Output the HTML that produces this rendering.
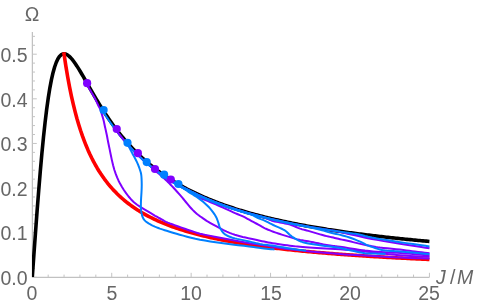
<!DOCTYPE html>
<html><head><meta charset="utf-8"><style>
html,body{margin:0;padding:0;background:#fff}
body{width:479px;height:307px;position:relative;overflow:hidden;font-family:"Liberation Sans",sans-serif}
.t{position:absolute;color:#666;font-size:19.5px;line-height:20px;white-space:nowrap;will-change:transform}
</style></head><body>
<svg width="479" height="307" viewBox="0 0 479 307" style="position:absolute;left:0;top:0"><defs><clipPath id="cp"><rect x="32.0" y="0" width="450" height="277.10"/></clipPath></defs><g stroke-width="1" fill="none"><line x1="32.3" y1="277.3" x2="429.425" y2="277.3" stroke="#b2b2b2"/><line x1="32.3" y1="277.3" x2="32.3" y2="32" stroke="#b2b2b2"/><line x1="32.30" y1="277.3" x2="32.30" y2="272.8" stroke="#c4c4c4"/><line x1="48.18" y1="277.3" x2="48.18" y2="274.6" stroke="#c4c4c4"/><line x1="64.07" y1="277.3" x2="64.07" y2="274.6" stroke="#c4c4c4"/><line x1="79.95" y1="277.3" x2="79.95" y2="274.6" stroke="#c4c4c4"/><line x1="95.84" y1="277.3" x2="95.84" y2="274.6" stroke="#c4c4c4"/><line x1="111.72" y1="277.3" x2="111.72" y2="272.8" stroke="#c4c4c4"/><line x1="127.61" y1="277.3" x2="127.61" y2="274.6" stroke="#c4c4c4"/><line x1="143.50" y1="277.3" x2="143.50" y2="274.6" stroke="#c4c4c4"/><line x1="159.38" y1="277.3" x2="159.38" y2="274.6" stroke="#c4c4c4"/><line x1="175.26" y1="277.3" x2="175.26" y2="274.6" stroke="#c4c4c4"/><line x1="191.15" y1="277.3" x2="191.15" y2="272.8" stroke="#c4c4c4"/><line x1="207.03" y1="277.3" x2="207.03" y2="274.6" stroke="#c4c4c4"/><line x1="222.92" y1="277.3" x2="222.92" y2="274.6" stroke="#c4c4c4"/><line x1="238.81" y1="277.3" x2="238.81" y2="274.6" stroke="#c4c4c4"/><line x1="254.69" y1="277.3" x2="254.69" y2="274.6" stroke="#c4c4c4"/><line x1="270.57" y1="277.3" x2="270.57" y2="272.8" stroke="#c4c4c4"/><line x1="286.46" y1="277.3" x2="286.46" y2="274.6" stroke="#c4c4c4"/><line x1="302.35" y1="277.3" x2="302.35" y2="274.6" stroke="#c4c4c4"/><line x1="318.23" y1="277.3" x2="318.23" y2="274.6" stroke="#c4c4c4"/><line x1="334.12" y1="277.3" x2="334.12" y2="274.6" stroke="#c4c4c4"/><line x1="350.00" y1="277.3" x2="350.00" y2="272.8" stroke="#c4c4c4"/><line x1="365.88" y1="277.3" x2="365.88" y2="274.6" stroke="#c4c4c4"/><line x1="381.77" y1="277.3" x2="381.77" y2="274.6" stroke="#c4c4c4"/><line x1="397.66" y1="277.3" x2="397.66" y2="274.6" stroke="#c4c4c4"/><line x1="413.54" y1="277.3" x2="413.54" y2="274.6" stroke="#c4c4c4"/><line x1="429.43" y1="277.3" x2="429.43" y2="272.8" stroke="#c4c4c4"/><line x1="32.3" y1="277.30" x2="36.8" y2="277.30" stroke="#c4c4c4"/><line x1="32.3" y1="268.38" x2="35.0" y2="268.38" stroke="#c4c4c4"/><line x1="32.3" y1="259.45" x2="35.0" y2="259.45" stroke="#c4c4c4"/><line x1="32.3" y1="250.53" x2="35.0" y2="250.53" stroke="#c4c4c4"/><line x1="32.3" y1="241.60" x2="35.0" y2="241.60" stroke="#c4c4c4"/><line x1="32.3" y1="232.68" x2="36.8" y2="232.68" stroke="#c4c4c4"/><line x1="32.3" y1="223.76" x2="35.0" y2="223.76" stroke="#c4c4c4"/><line x1="32.3" y1="214.83" x2="35.0" y2="214.83" stroke="#c4c4c4"/><line x1="32.3" y1="205.91" x2="35.0" y2="205.91" stroke="#c4c4c4"/><line x1="32.3" y1="196.98" x2="35.0" y2="196.98" stroke="#c4c4c4"/><line x1="32.3" y1="188.06" x2="36.8" y2="188.06" stroke="#c4c4c4"/><line x1="32.3" y1="179.14" x2="35.0" y2="179.14" stroke="#c4c4c4"/><line x1="32.3" y1="170.21" x2="35.0" y2="170.21" stroke="#c4c4c4"/><line x1="32.3" y1="161.29" x2="35.0" y2="161.29" stroke="#c4c4c4"/><line x1="32.3" y1="152.36" x2="35.0" y2="152.36" stroke="#c4c4c4"/><line x1="32.3" y1="143.44" x2="36.8" y2="143.44" stroke="#c4c4c4"/><line x1="32.3" y1="134.52" x2="35.0" y2="134.52" stroke="#c4c4c4"/><line x1="32.3" y1="125.59" x2="35.0" y2="125.59" stroke="#c4c4c4"/><line x1="32.3" y1="116.67" x2="35.0" y2="116.67" stroke="#c4c4c4"/><line x1="32.3" y1="107.74" x2="35.0" y2="107.74" stroke="#c4c4c4"/><line x1="32.3" y1="98.82" x2="36.8" y2="98.82" stroke="#c4c4c4"/><line x1="32.3" y1="89.90" x2="35.0" y2="89.90" stroke="#c4c4c4"/><line x1="32.3" y1="80.97" x2="35.0" y2="80.97" stroke="#c4c4c4"/><line x1="32.3" y1="72.05" x2="35.0" y2="72.05" stroke="#c4c4c4"/><line x1="32.3" y1="63.12" x2="35.0" y2="63.12" stroke="#c4c4c4"/><line x1="32.3" y1="54.20" x2="36.8" y2="54.20" stroke="#c4c4c4"/><line x1="32.3" y1="45.28" x2="35.0" y2="45.28" stroke="#c4c4c4"/><line x1="32.3" y1="36.35" x2="35.0" y2="36.35" stroke="#c4c4c4"/></g><path d="M32.30,276.90 L33.89,254.56 L35.49,232.55 L37.08,211.19 L38.68,190.77 L40.27,171.54 L41.87,153.68 L43.46,137.34 L45.06,122.59 L46.65,109.48 L48.25,97.99 L49.84,88.08 L51.44,79.68 L53.03,72.68 L54.63,66.99 L56.22,62.49 L57.82,59.05 L59.41,56.57 L61.01,54.94 L62.60,54.05 L64.20,53.80 L65.79,54.11 L67.39,54.90 L68.98,56.09 L70.58,57.62 L72.17,59.43 L73.77,61.49 L75.36,63.73 L76.96,66.14 L78.55,68.66 L80.15,71.28 L81.74,73.97 L83.34,76.71 L84.93,79.49 L86.53,82.28 L88.12,85.08 L89.72,87.88 L91.31,90.66 L92.91,93.42 L94.50,96.15 L96.10,98.85 L97.69,101.51 L99.28,104.14 L100.88,106.72 L102.47,109.25 L104.07,111.74 L105.66,114.19 L107.26,116.58 L108.85,118.93 L110.45,121.23 L112.04,123.48 L113.64,125.69 L115.23,127.84 L116.83,129.95 L118.42,132.02 L120.02,134.03 L121.61,136.01 L123.21,137.94 L124.80,139.82 L126.40,141.67 L127.99,143.47 L129.59,145.23 L131.18,146.95 L132.78,148.64 L134.37,150.29 L135.97,151.90 L137.56,153.47 L139.16,155.01 L140.75,156.52 L142.35,157.99 L143.94,159.44 L145.54,160.85 L147.13,162.23 L148.73,163.58 L150.32,164.90 L151.92,166.20 L153.51,167.47 L155.11,168.71 L156.70,169.92 L158.30,171.12 L159.89,172.28 L161.49,173.43 L163.08,174.55 L164.68,175.64 L166.27,176.72 L167.86,177.78 L169.46,178.81 L171.05,179.82 L172.65,180.82 L174.24,181.80 L175.84,182.75 L177.43,183.69 L179.03,184.61 L180.62,185.52 L182.22,186.41 L183.81,187.28 L185.41,188.14 L187.00,188.98 L188.60,189.80 L190.19,190.61 L191.79,191.41 L193.38,192.19 L194.98,192.96 L196.57,193.72 L198.17,194.46 L199.76,195.19 L201.36,195.91 L202.95,196.61 L204.55,197.31 L206.14,197.99 L207.74,198.66 L209.33,199.32 L210.93,199.97 L212.52,200.61 L214.12,201.24 L215.71,201.86 L217.31,202.47 L218.90,203.07 L220.50,203.66 L222.09,204.24 L223.69,204.82 L225.28,205.38 L226.88,205.94 L228.47,206.48 L230.07,207.02 L231.66,207.55 L233.25,208.08 L234.85,208.59 L236.44,209.10 L238.04,209.60 L239.63,210.10 L241.23,210.58 L242.82,211.06 L244.42,211.54 L246.01,212.00 L247.61,212.46 L249.20,212.92 L250.80,213.37 L252.39,213.81 L253.99,214.24 L255.58,214.67 L257.18,215.10 L258.77,215.51 L260.37,215.93 L261.96,216.33 L263.56,216.74 L265.15,217.13 L266.75,217.53 L268.34,217.91 L269.94,218.29 L271.53,218.67 L273.13,219.04 L274.72,219.41 L276.32,219.77 L277.91,220.13 L279.51,220.49 L281.10,220.84 L282.70,221.18 L284.29,221.53 L285.89,221.86 L287.48,222.20 L289.08,222.53 L290.67,222.85 L292.27,223.17 L293.86,223.49 L295.46,223.81 L297.05,224.12 L298.64,224.42 L300.24,224.73 L301.83,225.03 L303.43,225.32 L305.02,225.62 L306.62,225.91 L308.21,226.19 L309.81,226.48 L311.40,226.76 L313.00,227.04 L314.59,227.31 L316.19,227.58 L317.78,227.85 L319.38,228.12 L320.97,228.38 L322.57,228.64 L324.16,228.90 L325.76,229.15 L327.35,229.41 L328.95,229.66 L330.54,229.90 L332.14,230.15 L333.73,230.39 L335.33,230.63 L336.92,230.87 L338.52,231.10 L340.11,231.33 L341.71,231.56 L343.30,231.79 L344.90,232.02 L346.49,232.24 L348.09,232.46 L349.68,232.68 L351.28,232.90 L352.87,233.11 L354.47,233.32 L356.06,233.53 L357.66,233.74 L359.25,233.95 L360.85,234.15 L362.44,234.36 L364.03,234.56 L365.63,234.76 L367.22,234.95 L368.82,235.15 L370.41,235.34 L372.01,235.53 L373.60,235.72 L375.20,235.91 L376.79,236.10 L378.39,236.28 L379.98,236.47 L381.58,236.65 L383.17,236.83 L384.77,237.01 L386.36,237.18 L387.96,237.36 L389.55,237.53 L391.15,237.70 L392.74,237.87 L394.34,238.04 L395.93,238.21 L397.53,238.38 L399.12,238.54 L400.72,238.71 L402.31,238.87 L403.91,239.03 L405.50,239.19 L407.10,239.35 L408.69,239.50 L410.29,239.66 L411.88,239.81 L413.48,239.97 L415.07,240.12 L416.67,240.27 L418.26,240.42 L419.86,240.57 L421.45,240.71 L423.05,240.86 L424.64,241.00 L426.24,241.15 L427.83,241.29 L429.43,241.43" stroke="#000" stroke-width="3.6" fill="none" stroke-linejoin="round" clip-path="url(#cp)"/><path d="M63.82,52.20 L64.07,54.20 L65.91,66.39 L67.74,77.31 L69.58,87.16 L71.41,96.09 L73.25,104.21 L75.09,111.64 L76.92,118.46 L78.76,124.73 L80.59,130.53 L82.43,135.91 L84.27,140.90 L86.10,145.56 L87.94,149.91 L89.77,153.98 L91.61,157.79 L93.45,161.38 L95.28,164.76 L97.12,167.95 L98.95,170.96 L100.79,173.81 L102.63,176.51 L104.46,179.08 L106.30,181.51 L108.13,183.83 L109.97,186.04 L111.80,188.15 L113.64,190.16 L115.48,192.09 L117.31,193.93 L119.15,195.69 L120.98,197.38 L122.82,199.00 L124.66,200.56 L126.49,202.05 L128.33,203.49 L130.16,204.87 L132.00,206.21 L133.84,207.49 L135.67,208.73 L137.51,209.93 L139.34,211.09 L141.18,212.20 L143.02,213.28 L144.85,214.33 L146.69,215.34 L148.52,216.32 L150.36,217.26 L152.20,218.18 L154.03,219.07 L155.87,219.94 L157.70,220.78 L159.54,221.59 L161.38,222.39 L163.21,223.16 L165.05,223.91 L166.88,224.63 L168.72,225.34 L170.56,226.03 L172.39,226.71 L174.23,227.36 L176.06,228.00 L177.90,228.62 L179.74,229.23 L181.57,229.82 L183.41,230.39 L185.24,230.96 L187.08,231.51 L188.91,232.04 L190.75,232.57 L192.59,233.08 L194.42,233.58 L196.26,234.07 L198.09,234.55 L199.93,235.02 L201.77,235.48 L203.60,235.92 L205.44,236.36 L207.27,236.79 L209.11,237.21 L210.95,237.62 L212.78,238.03 L214.62,238.42 L216.45,238.81 L218.29,239.19 L220.13,239.56 L221.96,239.93 L223.80,240.29 L225.63,240.64 L227.47,240.98 L229.31,241.32 L231.14,241.65 L232.98,241.98 L234.81,242.30 L236.65,242.61 L238.49,242.92 L240.32,243.23 L242.16,243.53 L243.99,243.82 L245.83,244.11 L247.67,244.39 L249.50,244.67 L251.34,244.94 L253.17,245.21 L255.01,245.47 L256.85,245.73 L258.68,245.99 L260.52,246.24 L262.35,246.49 L264.19,246.73 L266.03,246.97 L267.86,247.21 L269.70,247.44 L271.53,247.67 L273.37,247.90 L275.20,248.12 L277.04,248.34 L278.88,248.55 L280.71,248.77 L282.55,248.98 L284.38,249.18 L286.22,249.39 L288.06,249.59 L289.89,249.78 L291.73,249.98 L293.56,250.17 L295.40,250.36 L297.24,250.55 L299.07,250.73 L300.91,250.91 L302.74,251.09 L304.58,251.27 L306.42,251.44 L308.25,251.61 L310.09,251.78 L311.92,251.95 L313.76,252.12 L315.60,252.28 L317.43,252.44 L319.27,252.60 L321.10,252.76 L322.94,252.91 L324.78,253.07 L326.61,253.22 L328.45,253.37 L330.28,253.51 L332.12,253.66 L333.96,253.80 L335.79,253.95 L337.63,254.09 L339.46,254.22 L341.30,254.36 L343.14,254.50 L344.97,254.63 L346.81,254.76 L348.64,254.89 L350.48,255.02 L352.31,255.15 L354.15,255.28 L355.99,255.40 L357.82,255.53 L359.66,255.65 L361.49,255.77 L363.33,255.89 L365.17,256.01 L367.00,256.12 L368.84,256.24 L370.67,256.35 L372.51,256.47 L374.35,256.58 L376.18,256.69 L378.02,256.80 L379.85,256.91 L381.69,257.01 L383.53,257.12 L385.36,257.22 L387.20,257.33 L389.03,257.43 L390.87,257.53 L392.71,257.63 L394.54,257.73 L396.38,257.83 L398.21,257.93 L400.05,258.03 L401.89,258.12 L403.72,258.22 L405.56,258.31 L407.39,258.40 L409.23,258.50 L411.07,258.59 L412.90,258.68 L414.74,258.77 L416.57,258.86 L418.41,258.94 L420.25,259.03 L422.08,259.12 L423.92,259.20 L425.75,259.29 L427.59,259.37 L429.43,259.45" stroke="#ff0000" stroke-width="3.6" fill="none" stroke-linejoin="round" /><path d="M87.00,84.52 L87.54,85.47 L88.31,86.82 L89.21,88.39 L90.14,90.01 L91.00,91.52 L91.81,92.90 L92.63,94.27 L93.45,95.64 L94.24,97.01 L95.00,98.40 L95.72,99.85 L96.42,101.35 L97.09,102.84 L97.72,104.24 L98.30,105.50 L98.80,106.48 L99.22,107.22 L99.62,107.93 L100.03,108.79 L100.50,110.00 L101.08,111.73 L101.73,113.84 L102.40,116.10 L103.01,118.23 L103.50,120.00 L103.82,121.24 L104.02,122.12 L104.17,122.88 L104.34,123.76 L104.60,125.00 L104.97,126.68 L105.41,128.64 L105.89,130.76 L106.36,132.92 L106.80,135.00 L107.15,136.76 L107.42,138.28 L107.72,139.92 L108.13,142.04 L108.75,145.00 L109.61,149.17 L110.65,154.30 L111.82,159.86 L113.09,165.27 L114.40,170.00 L115.73,173.94 L117.09,177.46 L118.56,180.71 L120.17,183.84 L122.00,187.00 L124.02,190.22 L126.21,193.41 L128.57,196.51 L131.13,199.46 L133.90,202.20 L137.08,204.76 L140.67,207.18 L144.35,209.41 L147.83,211.43 L150.80,213.20 L153.16,214.64 L155.10,215.79 L156.79,216.74 L158.37,217.61 L160.00,218.50 L161.60,219.40 L163.06,220.23 L164.50,221.02 L166.04,221.80 L167.80,222.60 L169.87,223.44 L172.16,224.29 L174.55,225.14 L176.88,225.95 L179.00,226.70 L180.81,227.35 L182.40,227.93 L183.94,228.48 L185.59,229.05 L187.50,229.70 L189.73,230.46 L192.17,231.29 L194.74,232.15 L197.38,232.97 L200.00,233.70 L202.62,234.32 L205.30,234.88 L208.00,235.39 L210.71,235.89 L213.40,236.40 L216.07,236.93 L218.73,237.45 L221.38,237.97 L224.04,238.49 L226.70,239.00 L229.36,239.51 L232.01,240.02 L234.67,240.52 L237.33,241.01 L240.00,241.50 L242.74,241.99 L245.53,242.47 L248.31,242.95 L250.99,243.39 L253.50,243.80 L255.62,244.12 L257.41,244.37 L259.19,244.60 L261.28,244.89 L264.00,245.30 L267.46,245.87 L271.45,246.56 L275.81,247.30 L280.38,248.03 L285.00,248.70 L289.66,249.29 L294.47,249.84 L299.45,250.36 L304.62,250.88 L310.00,251.40 L315.76,251.94 L321.88,252.50 L328.12,253.04 L334.24,253.55 L340.00,254.00 L345.40,254.38 L350.60,254.69 L355.60,254.97 L360.40,255.24 L365.00,255.50 L369.32,255.76 L373.36,256.01 L377.24,256.24 L381.08,256.47 L385.00,256.70 L388.93,256.93 L392.78,257.17 L396.68,257.39 L400.71,257.61 L405.00,257.80 L410.00,257.98 L415.65,258.14 L421.25,258.29 L426.10,258.41 L429.50,258.50" stroke="#8000ff" stroke-width="2.0" fill="none" stroke-linejoin="round"/><path d="M103.50,112.26 L104.04,113.09 L104.81,114.27 L105.71,115.64 L106.64,117.05 L107.50,118.34 L108.30,119.52 L109.10,120.69 L109.90,121.85 L110.70,122.99 L111.50,124.12 L112.30,125.24 L113.10,126.35 L113.90,127.44 L114.70,128.53 L115.50,129.60 L116.30,130.66 L117.10,131.71 L117.90,132.74 L118.70,133.77 L119.50,134.78 L120.30,135.80 L121.11,136.81 L121.91,137.81 L122.71,138.77 L123.50,139.69 L124.30,140.53 L125.13,141.33 L125.93,142.10 L126.66,142.85 L127.30,143.60 L127.81,144.37 L128.22,145.14 L128.57,145.90 L128.88,146.63 L129.20,147.30 L129.49,147.87 L129.74,148.34 L129.98,148.80 L130.25,149.33 L130.60,150.00 L131.07,150.91 L131.63,151.99 L132.22,153.13 L132.76,154.17 L133.20,155.00 L133.47,155.47 L133.60,155.68 L133.71,155.83 L133.88,156.10 L134.20,156.70 L134.73,157.70 L135.39,158.98 L136.13,160.42 L136.85,161.90 L137.50,163.30 L138.07,164.66 L138.62,166.06 L139.13,167.44 L139.59,168.77 L140.00,170.00 L140.34,171.05 L140.63,171.96 L140.87,172.83 L141.07,173.78 L141.25,174.90 L141.40,176.25 L141.51,177.75 L141.60,179.34 L141.66,180.94 L141.70,182.50 L141.72,183.91 L141.73,185.23 L141.71,186.59 L141.67,188.13 L141.60,190.00 L141.48,192.37 L141.31,195.14 L141.13,198.05 L140.98,200.86 L140.90,203.30 L140.88,205.31 L140.88,207.06 L140.94,208.64 L141.07,210.16 L141.30,211.70 L141.59,213.30 L141.93,214.88 L142.36,216.42 L142.94,217.87 L143.70,219.20 L144.68,220.38 L145.84,221.44 L147.15,222.41 L148.55,223.32 L150.00,224.20 L151.53,225.05 L153.17,225.85 L154.88,226.61 L156.60,227.32 L158.30,228.00 L159.90,228.61 L161.43,229.14 L163.00,229.65 L164.72,230.19 L166.70,230.80 L168.89,231.49 L171.22,232.23 L173.75,233.01 L176.56,233.83 L179.70,234.70 L183.19,235.65 L186.99,236.67 L191.07,237.72 L195.41,238.75 L200.00,239.70 L204.93,240.58 L210.21,241.41 L215.71,242.20 L221.25,242.96 L226.70,243.70 L232.31,244.44 L238.20,245.16 L243.95,245.85 L249.18,246.47 L253.50,247.00 L256.64,247.41 L258.87,247.71 L260.58,247.95 L262.16,248.17 L264.00,248.40 L266.27,248.66 L268.70,248.91 L271.06,249.15 L273.07,249.36 L274.50,249.50" stroke="#0080ff" stroke-width="2.0" fill="none" stroke-linejoin="round"/><path d="M116.75,131.15 L117.43,132.02 L118.39,133.25 L119.51,134.67 L120.67,136.14 L121.75,137.47 L122.75,138.69 L123.75,139.88 L124.75,141.06 L125.75,142.22 L126.75,143.37 L127.75,144.50 L128.75,145.61 L129.75,146.71 L130.75,147.79 L131.75,148.86 L132.75,149.91 L133.75,150.95 L134.75,151.97 L135.75,152.98 L136.75,153.97 L137.75,154.96 L138.75,155.92 L139.75,156.88 L140.75,157.82 L141.75,158.75 L142.75,159.66 L143.75,160.57 L144.75,161.46 L145.75,162.33 L146.75,163.20 L147.75,164.05 L148.75,164.87 L149.75,165.69 L150.75,166.51 L151.75,167.37 L152.75,168.26 L153.74,169.17 L154.73,170.10 L155.72,171.01 L156.70,171.90 L157.66,172.74 L158.61,173.54 L159.56,174.33 L160.52,175.14 L161.50,176.00 L162.49,176.88 L163.48,177.78 L164.50,178.71 L165.56,179.71 L166.70,180.80 L167.93,182.01 L169.25,183.32 L170.61,184.69 L171.97,186.10 L173.30,187.50 L174.64,188.95 L176.00,190.48 L177.34,192.00 L178.60,193.44 L179.70,194.70 L180.57,195.69 L181.24,196.45 L181.84,197.15 L182.52,197.95 L183.40,199.00 L184.53,200.38 L185.83,202.00 L187.21,203.72 L188.63,205.42 L190.00,207.00 L191.33,208.45 L192.67,209.86 L194.02,211.21 L195.36,212.50 L196.70,213.70 L198.04,214.81 L199.38,215.82 L200.73,216.78 L202.07,217.69 L203.40,218.60 L204.56,219.41 L205.56,220.10 L206.64,220.82 L208.04,221.67 L210.00,222.80 L212.75,224.35 L216.12,226.23 L219.78,228.23 L223.42,230.13 L226.70,231.70 L229.57,232.90 L232.26,233.88 L234.83,234.71 L237.38,235.46 L240.00,236.20 L242.74,236.92 L245.53,237.58 L248.31,238.18 L250.99,238.75 L253.50,239.30 L255.78,239.82 L257.89,240.29 L259.91,240.74 L261.92,241.17 L264.00,241.60 L266.10,242.02 L268.17,242.42 L270.29,242.81 L272.54,243.20 L275.00,243.60 L277.82,244.03 L280.95,244.48 L284.17,244.93 L287.26,245.35 L290.00,245.70 L292.21,245.97 L294.04,246.19 L295.76,246.37 L297.65,246.54 L300.00,246.75 L302.81,246.99 L305.88,247.24 L309.22,247.49 L312.83,247.75 L316.70,248.00 L320.91,248.23 L325.46,248.45 L330.24,248.67 L335.13,248.93 L340.00,249.25 L344.97,249.65 L350.12,250.12 L355.28,250.62 L360.29,251.12 L365.00,251.60 L369.32,252.06 L373.36,252.51 L377.24,252.96 L381.08,253.39 L385.00,253.80 L388.93,254.20 L392.78,254.58 L396.68,254.94 L400.71,255.28 L405.00,255.60 L410.00,255.90 L415.65,256.18 L421.25,256.44 L426.10,256.65 L429.50,256.80" stroke="#8000ff" stroke-width="2.0" fill="none" stroke-linejoin="round"/><path d="M137.50,154.51 L138.18,155.16 L139.14,156.08 L140.26,157.14 L141.42,158.23 L142.50,159.23 L143.50,160.14 L144.50,161.03 L145.50,161.92 L146.50,162.79 L147.50,163.64 L148.50,164.49 L149.50,165.33 L150.50,166.15 L151.50,166.96 L152.50,167.77 L153.50,168.56 L154.50,169.34 L155.50,170.11 L156.50,170.87 L157.50,171.62 L158.50,172.37 L159.50,173.10 L160.50,173.82 L161.50,174.54 L162.50,175.24 L163.50,175.94 L164.50,176.63 L165.50,177.30 L166.50,177.97 L167.50,178.64 L168.50,179.29 L169.50,179.94 L170.50,180.57 L171.50,181.20 L172.50,181.83 L173.50,182.44 L174.50,183.05 L175.50,183.65 L176.50,184.24 L177.50,184.83 L178.50,185.41 L179.50,185.98 L180.50,186.55 L181.50,187.11 L182.50,187.66 L183.38,188.13 L184.14,188.52 L184.96,188.94 L186.02,189.50 L187.50,190.33 L189.56,191.56 L192.08,193.09 L194.82,194.75 L197.54,196.35 L200.00,197.70 L202.16,198.76 L204.18,199.64 L206.12,200.43 L208.04,201.19 L210.00,202.00 L211.95,202.82 L213.84,203.62 L215.76,204.42 L217.79,205.29 L220.00,206.25 L222.50,207.37 L225.23,208.62 L228.04,209.91 L230.79,211.17 L233.30,212.30 L235.60,213.30 L237.78,214.22 L239.84,215.08 L241.75,215.90 L243.50,216.70 L245.01,217.44 L246.28,218.12 L247.45,218.78 L248.64,219.46 L250.00,220.20 L251.57,221.03 L253.27,221.93 L255.01,222.85 L256.71,223.75 L258.30,224.60 L259.72,225.39 L261.02,226.14 L262.28,226.88 L263.58,227.59 L265.00,228.30 L266.56,229.01 L268.20,229.71 L269.90,230.39 L271.61,231.06 L273.30,231.70 L274.98,232.32 L276.66,232.92 L278.34,233.49 L280.02,234.05 L281.70,234.60 L283.37,235.13 L285.03,235.63 L286.68,236.12 L288.34,236.61 L290.00,237.10 L291.63,237.61 L293.24,238.14 L294.86,238.66 L296.53,239.15 L298.30,239.60 L300.22,239.99 L302.25,240.34 L304.33,240.66 L306.38,240.97 L308.30,241.30 L310.08,241.64 L311.78,241.98 L313.42,242.32 L315.05,242.66 L316.70,243.00 L318.37,243.35 L320.03,243.70 L321.68,244.06 L323.34,244.39 L325.00,244.70 L326.69,244.98 L328.40,245.23 L330.10,245.47 L331.74,245.69 L333.30,245.90 L334.45,246.04 L335.22,246.12 L336.08,246.21 L337.51,246.39 L340.00,246.75 L343.91,247.36 L348.92,248.18 L354.48,249.08 L360.03,249.93 L365.00,250.60 L369.32,251.07 L373.36,251.42 L377.24,251.70 L381.08,251.94 L385.00,252.20 L388.93,252.45 L392.78,252.66 L396.68,252.87 L400.71,253.10 L405.00,253.40 L410.00,253.81 L415.65,254.31 L421.25,254.83 L426.10,255.28 L429.50,255.60" stroke="#8000ff" stroke-width="2.0" fill="none" stroke-linejoin="round"/><path d="M155.10,169.45 L155.78,169.96 L156.74,170.69 L157.86,171.53 L159.02,172.39 L160.10,173.18 L161.10,173.90 L162.10,174.61 L163.10,175.31 L164.10,176.00 L165.10,176.68 L166.10,177.36 L167.10,178.02 L168.10,178.68 L169.10,179.33 L170.10,179.97 L171.10,180.60 L172.10,181.23 L173.10,181.85 L174.10,182.46 L175.10,183.06 L176.10,183.66 L177.10,184.25 L178.10,184.83 L179.10,185.40 L180.10,185.97 L181.10,186.54 L182.10,187.09 L183.10,187.64 L184.10,188.18 L185.10,188.72 L186.10,189.25 L187.10,189.78 L188.10,190.30 L189.10,190.81 L190.10,191.32 L191.10,191.82 L192.10,192.31 L193.10,192.80 L194.10,193.29 L195.10,193.77 L196.10,194.24 L197.10,194.71 L198.10,195.18 L199.10,195.64 L200.10,196.09 L201.10,196.54 L202.10,196.99 L203.10,197.43 L204.10,197.87 L205.10,198.30 L206.10,198.72 L207.10,199.15 L208.10,199.56 L209.10,199.98 L210.10,200.39 L211.10,200.79 L212.10,201.20 L213.10,201.59 L214.10,201.99 L215.10,202.38 L216.10,202.76 L217.10,203.14 L218.10,203.52 L219.10,203.90 L220.10,204.27 L221.10,204.63 L222.10,205.00 L223.10,205.36 L224.10,205.71 L225.10,206.07 L226.10,206.42 L227.10,206.76 L228.10,207.11 L229.10,207.45 L230.10,207.79 L231.10,208.12 L232.10,208.45 L233.10,208.78 L234.10,209.10 L235.10,209.42 L236.10,209.74 L237.10,210.06 L238.10,210.37 L239.10,210.68 L240.10,210.99 L241.10,211.29 L242.10,211.60 L243.10,211.90 L244.10,212.19 L245.10,212.49 L246.10,212.78 L247.10,213.07 L248.10,213.35 L249.10,213.64 L250.10,213.92 L251.10,214.20 L252.10,214.48 L253.10,214.75 L254.10,215.02 L255.10,215.29 L256.10,215.56 L257.10,215.83 L258.10,216.09 L259.10,216.35 L260.10,216.61 L261.05,216.83 L261.96,217.03 L262.89,217.23 L263.91,217.50 L265.10,217.87 L266.48,218.40 L268.01,219.05 L269.64,219.75 L271.32,220.43 L273.00,221.00 L274.70,221.45 L276.44,221.82 L278.21,222.14 L279.97,222.46 L281.70,222.80 L283.36,223.12 L284.97,223.41 L286.58,223.72 L288.24,224.10 L290.00,224.60 L291.92,225.29 L293.96,226.12 L296.04,227.02 L298.08,227.87 L300.00,228.60 L301.77,229.17 L303.44,229.63 L305.05,230.05 L306.66,230.45 L308.30,230.90 L309.98,231.39 L311.66,231.90 L313.34,232.40 L315.02,232.91 L316.70,233.40 L318.37,233.88 L320.03,234.35 L321.68,234.82 L323.34,235.27 L325.00,235.70 L326.69,236.11 L328.40,236.50 L330.10,236.88 L331.74,237.25 L333.30,237.60 L334.68,237.93 L335.89,238.22 L337.09,238.52 L338.42,238.83 L340.00,239.20 L341.92,239.63 L344.08,240.10 L346.37,240.59 L348.68,241.10 L350.90,241.60 L353.01,242.10 L355.09,242.61 L357.16,243.12 L359.22,243.62 L361.30,244.10 L363.43,244.56 L365.60,245.00 L367.76,245.43 L369.85,245.83 L371.80,246.20 L373.40,246.52 L374.68,246.78 L375.98,247.03 L377.64,247.29 L380.00,247.60 L383.32,247.96 L387.39,248.36 L391.79,248.78 L396.13,249.20 L400.00,249.60 L403.33,249.99 L406.38,250.38 L409.28,250.76 L412.11,251.13 L415.00,251.50 L418.16,251.88 L421.53,252.28 L424.77,252.65 L427.54,252.97 L429.50,253.20" stroke="#8000ff" stroke-width="2.0" fill="none" stroke-linejoin="round"/><path d="M170.70,180.00 L171.38,180.42 L172.34,181.02 L173.46,181.71 L174.62,182.42 L175.70,183.07 L176.70,183.66 L177.70,184.25 L178.70,184.83 L179.70,185.40 L180.70,185.96 L181.70,186.52 L182.70,187.07 L183.70,187.62 L184.70,188.16 L185.70,188.69 L186.70,189.22 L187.70,189.74 L188.70,190.25 L189.70,190.76 L190.70,191.27 L191.70,191.77 L192.70,192.26 L193.70,192.75 L194.70,193.23 L195.70,193.71 L196.70,194.18 L197.70,194.64 L198.70,195.11 L199.70,195.56 L200.70,196.01 L201.70,196.46 L202.70,196.90 L203.70,197.34 L204.70,197.77 L205.70,198.20 L206.70,198.63 L207.70,199.05 L208.70,199.46 L209.70,199.87 L210.70,200.28 L211.70,200.69 L212.70,201.08 L213.70,201.48 L214.70,201.87 L215.70,202.26 L216.70,202.64 L217.70,203.02 L218.70,203.40 L219.70,203.77 L220.70,204.14 L221.70,204.50 L222.70,204.86 L223.70,205.22 L224.70,205.58 L225.70,205.93 L226.70,206.28 L227.70,206.62 L228.70,206.96 L229.70,207.30 L230.70,207.64 L231.70,207.97 L232.70,208.30 L233.70,208.62 L234.70,208.95 L235.70,209.27 L236.70,209.58 L237.70,209.90 L238.70,210.21 L239.70,210.52 L240.70,210.82 L241.70,211.13 L242.70,211.43 L243.70,211.72 L244.70,212.02 L245.70,212.31 L246.70,212.60 L247.70,212.89 L248.70,213.17 L249.70,213.46 L250.70,213.74 L251.70,214.02 L252.70,214.29 L253.70,214.56 L254.70,214.83 L255.70,215.10 L256.70,215.37 L257.70,215.63 L258.70,215.90 L259.70,216.15 L260.70,216.41 L261.70,216.67 L262.70,216.92 L263.70,217.17 L264.70,217.42 L265.70,217.67 L266.70,217.91 L267.70,218.16 L268.70,218.40 L269.70,218.64 L270.70,218.88 L271.70,219.11 L272.70,219.34 L273.70,219.58 L274.70,219.81 L275.70,220.03 L276.70,220.26 L277.70,220.49 L278.70,220.71 L279.70,220.93 L280.70,221.15 L281.70,221.37 L282.70,221.58 L283.70,221.80 L284.70,222.01 L285.70,222.22 L286.70,222.43 L287.70,222.64 L288.70,222.85 L289.70,223.05 L290.70,223.26 L291.70,223.46 L292.70,223.66 L293.70,223.86 L294.70,224.06 L295.70,224.25 L296.70,224.45 L297.70,224.64 L298.70,224.83 L299.70,225.02 L300.70,225.21 L301.70,225.40 L302.70,225.59 L303.70,225.77 L304.70,225.96 L305.70,226.14 L306.70,226.32 L307.70,226.50 L308.70,226.68 L309.70,226.86 L310.70,227.04 L311.70,227.21 L312.70,227.39 L313.70,227.56 L314.70,227.73 L315.70,227.90 L316.70,228.07 L317.70,228.24 L318.70,228.41 L319.70,228.57 L320.70,228.74 L321.70,228.90 L322.70,229.06 L323.70,229.22 L324.70,229.38 L325.70,229.54 L326.70,229.70 L327.70,229.86 L328.70,230.02 L329.70,230.17 L330.70,230.33 L331.47,230.42 L332.01,230.47 L332.67,230.53 L333.78,230.71 L335.70,231.08 L338.68,231.71 L342.50,232.55 L346.76,233.48 L351.06,234.43 L355.00,235.30 L358.37,236.06 L361.44,236.76 L364.52,237.47 L367.93,238.20 L372.00,239.00 L376.87,239.89 L382.34,240.86 L388.16,241.85 L394.13,242.84 L400.00,243.80 L406.28,244.79 L413.11,245.84 L419.75,246.84 L425.46,247.69 L429.50,248.30" stroke="#8000ff" stroke-width="2.0" fill="none" stroke-linejoin="round"/><path d="M127.50,144.22 L128.18,144.96 L129.14,146.02 L130.26,147.24 L131.42,148.50 L132.50,149.65 L133.50,150.69 L134.50,151.72 L135.50,152.73 L136.50,153.73 L137.50,154.71 L138.50,155.68 L139.50,156.64 L140.50,157.58 L141.50,158.52 L142.50,159.43 L143.50,160.34 L144.50,161.23 L145.50,162.12 L146.50,162.99 L147.50,163.84 L148.50,164.69 L149.50,165.53 L150.50,166.35 L151.50,167.16 L152.50,167.97 L153.50,168.76 L154.50,169.54 L155.50,170.31 L156.50,171.07 L157.50,171.82 L158.50,172.57 L159.50,173.30 L160.50,174.02 L161.50,174.74 L162.50,175.44 L163.50,176.14 L164.50,176.83 L165.50,177.50 L166.50,178.17 L167.50,178.84 L168.50,179.49 L169.50,180.14 L170.50,180.77 L171.50,181.40 L172.50,182.03 L173.50,182.64 L174.50,183.25 L175.50,183.85 L176.50,184.44 L177.50,185.03 L178.46,185.57 L179.38,186.07 L180.32,186.59 L181.34,187.16 L182.50,187.86 L183.85,188.73 L185.36,189.72 L186.94,190.78 L188.51,191.83 L190.00,192.80 L191.39,193.67 L192.74,194.49 L194.06,195.30 L195.37,196.12 L196.70,197.00 L198.04,197.93 L199.38,198.88 L200.73,199.86 L202.07,200.90 L203.40,202.00 L204.75,203.18 L206.10,204.42 L207.45,205.71 L208.76,207.04 L210.00,208.40 L211.20,209.82 L212.38,211.32 L213.50,212.83 L214.52,214.31 L215.40,215.70 L216.11,216.98 L216.67,218.19 L217.14,219.36 L217.56,220.52 L218.00,221.70 L218.41,222.91 L218.77,224.13 L219.12,225.35 L219.51,226.54 L220.00,227.70 L220.59,228.84 L221.24,229.98 L221.96,231.08 L222.71,232.10 L223.50,233.00 L224.29,233.76 L225.10,234.39 L225.96,234.95 L226.92,235.48 L228.00,236.00 L229.18,236.52 L230.43,237.00 L231.80,237.46 L233.34,237.92 L235.10,238.40 L237.12,238.89 L239.39,239.37 L241.81,239.86 L244.30,240.37 L246.80,240.90 L249.28,241.48 L251.80,242.11 L254.38,242.74 L257.04,243.35 L259.80,243.90 L262.73,244.38 L265.83,244.80 L268.97,245.20 L272.07,245.59 L275.00,246.00 L277.76,246.44 L280.41,246.90 L282.98,247.35 L285.50,247.79 L288.00,248.20 L290.56,248.59 L293.16,248.96 L295.68,249.32 L298.00,249.63 L300.00,249.90 L301.68,250.12 L303.12,250.29 L304.32,250.42 L305.28,250.52 L306.00,250.60" stroke="#0080ff" stroke-width="2.0" fill="none" stroke-linejoin="round"/><path d="M146.50,162.79 L147.18,163.36 L148.14,164.17 L149.26,165.11 L150.42,166.08 L151.50,166.96 L152.50,167.77 L153.50,168.56 L154.50,169.34 L155.50,170.11 L156.50,170.87 L157.50,171.62 L158.50,172.37 L159.50,173.10 L160.50,173.82 L161.50,174.54 L162.50,175.24 L163.50,175.94 L164.50,176.62 L165.50,177.30 L166.50,177.97 L167.50,178.64 L168.50,179.29 L169.50,179.94 L170.50,180.57 L171.50,181.20 L172.50,181.83 L173.50,182.44 L174.50,183.05 L175.50,183.65 L176.50,184.24 L177.50,184.83 L178.50,185.41 L179.50,185.98 L180.50,186.55 L181.50,187.11 L182.50,187.66 L183.50,188.21 L184.50,188.75 L185.50,189.28 L186.50,189.81 L187.50,190.33 L188.50,190.85 L189.50,191.36 L190.50,191.87 L191.50,192.37 L192.50,192.86 L193.50,193.35 L194.50,193.83 L195.50,194.31 L196.50,194.78 L197.50,195.25 L198.50,195.71 L199.50,196.17 L200.50,196.62 L201.50,197.07 L202.50,197.52 L203.50,197.95 L204.50,198.39 L205.50,198.82 L206.50,199.24 L207.50,199.66 L208.50,200.08 L209.50,200.49 L210.50,200.90 L211.50,201.30 L212.50,201.70 L213.50,202.10 L214.50,202.49 L215.50,202.88 L216.50,203.26 L217.50,203.65 L218.50,204.02 L219.50,204.39 L220.50,204.76 L221.50,205.13 L222.50,205.49 L223.50,205.85 L224.50,206.21 L225.50,206.56 L226.50,206.91 L227.50,207.25 L228.50,207.59 L229.50,207.93 L230.50,208.27 L231.50,208.60 L232.50,208.93 L233.50,209.26 L234.50,209.58 L235.50,209.90 L236.50,210.22 L237.50,210.53 L238.50,210.85 L239.50,211.16 L240.50,211.46 L241.50,211.77 L242.50,212.07 L243.50,212.37 L244.50,212.66 L245.50,212.95 L246.50,213.24 L247.48,213.50 L248.43,213.72 L249.39,213.96 L250.40,214.25 L251.50,214.66 L252.70,215.21 L253.97,215.88 L255.29,216.61 L256.64,217.34 L258.00,218.00 L259.35,218.57 L260.70,219.09 L262.08,219.61 L263.51,220.16 L265.00,220.80 L266.58,221.56 L268.22,222.40 L269.91,223.29 L271.61,224.17 L273.30,225.00 L275.04,225.80 L276.85,226.59 L278.63,227.36 L280.28,228.09 L281.70,228.75 L282.83,229.31 L283.73,229.78 L284.50,230.22 L285.22,230.69 L286.00,231.25 L286.82,231.93 L287.62,232.70 L288.41,233.50 L289.20,234.28 L290.00,235.00 L290.80,235.64 L291.59,236.24 L292.38,236.81 L293.18,237.36 L294.00,237.90 L294.83,238.44 L295.68,238.96 L296.54,239.47 L297.41,239.95 L298.30,240.40 L299.20,240.81 L300.12,241.20 L301.06,241.56 L302.02,241.89 L303.00,242.20 L303.97,242.48 L304.93,242.72 L305.93,242.94 L307.03,243.16 L308.30,243.40 L309.78,243.66 L311.44,243.92 L313.20,244.18 L314.98,244.44 L316.70,244.70 L318.37,244.95 L320.03,245.19 L321.68,245.43 L323.34,245.67 L325.00,245.90 L326.69,246.13 L328.40,246.36 L330.10,246.58 L331.74,246.79 L333.30,247.00 L334.69,247.17 L335.94,247.31 L337.16,247.45 L338.47,247.63 L340.00,247.90 L341.71,248.26 L343.52,248.69 L345.48,249.16 L347.63,249.67 L350.00,250.20 L352.76,250.80 L355.88,251.47 L359.12,252.15 L362.24,252.76 L365.00,253.20 L367.31,253.45 L369.34,253.55 L371.20,253.57 L373.05,253.57 L375.00,253.60 L377.24,253.67 L379.67,253.74 L382.03,253.81 L384.06,253.86 L385.50,253.90" stroke="#0080ff" stroke-width="2.0" fill="none" stroke-linejoin="round"/><path d="M164.00,175.93 L164.68,176.39 L165.64,177.03 L166.76,177.79 L167.92,178.56 L169.00,179.26 L170.00,179.91 L171.00,180.54 L172.00,181.17 L173.00,181.79 L174.00,182.40 L175.00,183.00 L176.00,183.60 L177.00,184.19 L178.00,184.77 L179.00,185.35 L180.00,185.92 L181.00,186.48 L182.00,187.04 L183.00,187.59 L184.00,188.13 L185.00,188.67 L186.00,189.20 L187.00,189.72 L188.00,190.24 L189.00,190.76 L190.00,191.27 L191.00,191.77 L192.00,192.26 L193.00,192.76 L194.00,193.24 L195.00,193.72 L196.00,194.20 L197.00,194.67 L198.00,195.13 L199.00,195.59 L200.00,196.05 L201.00,196.50 L202.00,196.94 L203.00,197.39 L204.00,197.82 L205.00,198.25 L206.00,198.68 L207.00,199.10 L208.00,199.52 L209.00,199.94 L210.00,200.35 L211.00,200.75 L212.00,201.16 L213.00,201.55 L214.00,201.95 L215.00,202.34 L216.00,202.72 L217.00,203.11 L218.00,203.48 L219.00,203.86 L220.00,204.23 L221.00,204.60 L222.00,204.96 L223.00,205.32 L224.00,205.68 L225.00,206.03 L226.00,206.38 L227.00,206.73 L228.00,207.07 L229.00,207.41 L230.00,207.75 L231.00,208.09 L232.00,208.42 L233.00,208.74 L234.00,209.07 L235.00,209.39 L236.00,209.71 L237.00,210.03 L238.00,210.34 L239.00,210.65 L240.00,210.96 L241.00,211.26 L242.00,211.57 L243.00,211.87 L244.00,212.16 L245.00,212.46 L246.00,212.75 L247.00,213.04 L248.00,213.33 L249.00,213.61 L250.00,213.89 L251.00,214.17 L252.00,214.45 L253.00,214.72 L254.00,215.00 L255.00,215.27 L256.00,215.53 L257.00,215.80 L258.00,216.06 L259.00,216.32 L260.00,216.58 L261.00,216.84 L262.00,217.09 L263.00,217.35 L264.00,217.60 L265.00,217.85 L266.00,218.09 L267.00,218.34 L268.00,218.58 L269.00,218.82 L270.00,219.06 L271.00,219.30 L272.00,219.53 L273.00,219.76 L274.00,220.00 L275.00,220.23 L276.00,220.45 L277.00,220.68 L278.00,220.90 L279.00,221.13 L280.00,221.35 L281.00,221.57 L282.00,221.78 L283.00,222.00 L284.00,222.21 L285.00,222.43 L286.00,222.64 L287.00,222.85 L288.00,223.05 L289.00,223.26 L290.00,223.46 L291.00,223.67 L292.00,223.87 L293.00,224.07 L294.00,224.27 L295.00,224.47 L296.00,224.66 L297.00,224.86 L298.00,225.05 L299.00,225.24 L299.90,225.41 L300.71,225.55 L301.57,225.71 L302.62,225.90 L304.00,226.18 L305.88,226.56 L308.16,227.04 L310.60,227.55 L312.96,228.05 L315.00,228.50 L316.64,228.87 L318.04,229.19 L319.32,229.50 L320.60,229.83 L322.00,230.20 L323.50,230.64 L325.01,231.11 L326.58,231.61 L328.23,232.12 L330.00,232.60 L331.92,233.05 L333.98,233.49 L336.12,233.93 L338.28,234.39 L340.40,234.90 L342.50,235.45 L344.60,236.03 L346.70,236.64 L348.80,237.30 L350.90,238.00 L353.07,238.80 L355.32,239.68 L357.52,240.58 L359.55,241.44 L361.30,242.20 L362.67,242.83 L363.75,243.38 L364.66,243.87 L365.54,244.34 L366.50,244.80 L367.51,245.24 L368.47,245.65 L369.47,246.05 L370.55,246.46 L371.80,246.90 L373.32,247.42 L375.07,247.99 L376.88,248.57 L378.58,249.09 L380.00,249.50 L381.04,249.78 L381.81,249.96 L382.46,250.08 L383.14,250.18 L384.00,250.30 L385.01,250.43 L386.06,250.55 L387.22,250.67 L388.51,250.78 L390.00,250.90 L391.66,251.01 L393.47,251.11 L395.45,251.21 L397.62,251.34 L400.00,251.50 L402.69,251.71 L405.66,251.96 L408.80,252.23 L411.95,252.52 L415.00,252.80 L418.16,253.11 L421.53,253.46 L424.77,253.80 L427.54,254.09 L429.50,254.30" stroke="#0080ff" stroke-width="2.0" fill="none" stroke-linejoin="round"/><path d="M178.10,184.48 L178.78,184.86 L179.74,185.41 L180.86,186.04 L182.02,186.69 L183.10,187.29 L184.10,187.83 L185.10,188.37 L186.10,188.90 L187.10,189.43 L188.10,189.95 L189.10,190.46 L190.10,190.97 L191.10,191.47 L192.10,191.96 L193.10,192.45 L194.10,192.94 L195.10,193.42 L196.10,193.89 L197.10,194.36 L198.10,194.83 L199.10,195.29 L200.10,195.74 L201.10,196.19 L202.10,196.64 L203.10,197.08 L204.10,197.52 L205.10,197.95 L206.10,198.37 L207.10,198.80 L208.10,199.21 L209.10,199.63 L210.10,200.04 L211.10,200.44 L212.10,200.85 L213.10,201.24 L214.10,201.64 L215.10,202.03 L216.10,202.41 L217.10,202.79 L218.10,203.17 L219.10,203.55 L220.10,203.92 L221.10,204.28 L222.10,204.65 L223.10,205.01 L224.10,205.36 L225.10,205.72 L226.10,206.07 L227.10,206.41 L228.10,206.76 L229.10,207.10 L230.10,207.44 L231.10,207.77 L232.10,208.10 L233.10,208.43 L234.10,208.75 L235.10,209.07 L236.10,209.39 L237.10,209.71 L238.10,210.02 L239.10,210.33 L240.10,210.64 L241.10,210.94 L242.10,211.25 L243.10,211.55 L244.10,211.84 L245.10,212.14 L246.10,212.43 L247.10,212.72 L248.10,213.00 L249.10,213.29 L250.10,213.57 L251.10,213.85 L252.10,214.13 L253.10,214.40 L254.10,214.67 L255.10,214.94 L256.10,215.21 L257.10,215.48 L258.10,215.74 L259.10,216.00 L260.10,216.26 L261.10,216.51 L262.10,216.77 L263.10,217.02 L264.10,217.27 L265.10,217.52 L266.10,217.77 L267.10,218.01 L268.10,218.25 L269.10,218.49 L270.10,218.73 L271.10,218.97 L272.10,219.20 L273.10,219.44 L274.10,219.67 L275.10,219.90 L276.10,220.13 L277.10,220.35 L278.10,220.58 L279.10,220.80 L280.10,221.02 L281.10,221.24 L282.10,221.45 L283.10,221.67 L284.10,221.88 L285.10,222.10 L286.10,222.31 L287.10,222.52 L288.10,222.72 L289.10,222.93 L290.10,223.14 L291.10,223.34 L292.10,223.54 L293.10,223.74 L294.10,223.94 L295.10,224.14 L296.10,224.33 L297.10,224.53 L298.10,224.72 L299.10,224.91 L300.10,225.10 L301.10,225.29 L302.10,225.48 L303.10,225.66 L304.10,225.85 L305.10,226.03 L306.10,226.21 L307.10,226.39 L308.10,226.57 L309.10,226.75 L310.10,226.93 L311.10,227.11 L312.10,227.28 L313.10,227.45 L314.10,227.63 L315.10,227.80 L316.10,227.97 L317.10,228.14 L318.10,228.31 L319.10,228.47 L320.10,228.64 L321.10,228.80 L322.10,228.97 L323.10,229.13 L324.10,229.29 L325.10,229.45 L326.10,229.61 L327.10,229.77 L328.10,229.92 L329.10,230.08 L330.10,230.23 L331.10,230.39 L332.10,230.54 L333.10,230.69 L334.10,230.84 L335.10,230.99 L336.10,231.14 L337.10,231.29 L338.10,231.44 L339.10,231.58 L340.10,231.73 L341.10,231.87 L342.10,232.02 L343.10,232.16 L344.10,232.30 L345.10,232.44 L346.10,232.58 L347.10,232.72 L348.10,232.86 L349.10,233.00 L350.10,233.14 L351.10,233.27 L352.10,233.41 L353.10,233.54 L353.96,233.63 L354.67,233.67 L355.46,233.74 L356.53,233.89 L358.10,234.20 L360.08,234.68 L362.34,235.30 L365.00,236.02 L368.18,236.80 L372.00,237.60 L376.67,238.45 L382.11,239.37 L388.02,240.33 L394.08,241.29 L400.00,242.20 L406.28,243.13 L413.11,244.11 L419.75,245.04 L425.46,245.84 L429.50,246.40" stroke="#0080ff" stroke-width="2.0" fill="none" stroke-linejoin="round"/><circle cx="87.10" cy="83.20" r="4.1" fill="#8000ff"/><circle cx="103.60" cy="110.00" r="4.1" fill="#0080ff"/><circle cx="116.75" cy="129.00" r="4.1" fill="#8000ff"/><circle cx="127.50" cy="142.80" r="4.1" fill="#0080ff"/><circle cx="137.90" cy="153.20" r="4.1" fill="#8000ff"/><circle cx="146.70" cy="162.10" r="4.1" fill="#0080ff"/><circle cx="155.00" cy="169.00" r="4.1" fill="#8000ff"/><circle cx="164.10" cy="174.70" r="4.1" fill="#0080ff"/><circle cx="170.80" cy="179.50" r="4.1" fill="#8000ff"/><circle cx="178.40" cy="184.00" r="4.1" fill="#0080ff"/></svg>
<div class="t" style="left:12.3px;top:283px;width:40px;text-align:center">0</div><div class="t" style="left:91.7px;top:283px;width:40px;text-align:center">5</div><div class="t" style="left:171.1px;top:283px;width:40px;text-align:center">10</div><div class="t" style="left:250.6px;top:283px;width:40px;text-align:center">15</div><div class="t" style="left:330.0px;top:283px;width:40px;text-align:center">20</div><div class="t" style="left:409.4px;top:283px;width:40px;text-align:center">25</div><div class="t" style="left:0px;top:268.0px;width:27.5px;text-align:right">0.0</div><div class="t" style="left:0px;top:223.4px;width:27.5px;text-align:right">0.1</div><div class="t" style="left:0px;top:178.8px;width:27.5px;text-align:right">0.2</div><div class="t" style="left:0px;top:134.1px;width:27.5px;text-align:right">0.3</div><div class="t" style="left:0px;top:89.5px;width:27.5px;text-align:right">0.4</div><div class="t" style="left:0px;top:44.9px;width:27.5px;text-align:right">0.5</div><div class="t" style="left:17px;top:4px;width:30px;text-align:center">Ω</div><div class="t" style="left:436.1px;top:267.4px;font-style:italic">J</div><div class="t" style="left:449.6px;top:267.4px">/</div><div class="t" style="left:457.0px;top:267.4px;font-style:italic">M</div>
</body></html>
